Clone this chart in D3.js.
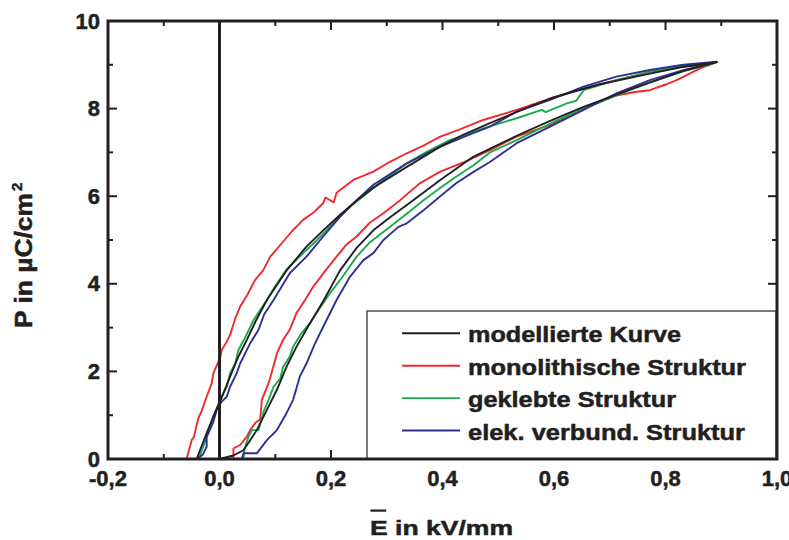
<!DOCTYPE html>
<html>
<head>
<meta charset="utf-8">
<script src="https://cdn.jsdelivr.net/npm/d3@7"></script>
<style>
  html, body { margin: 0; padding: 0; background: #fff; }
  text { font-family: "Liberation Sans", Arial, sans-serif; font-weight: bold; fill: #231f20; stroke: #231f20; stroke-width: 0.5px; }
</style>
</head>
<body>
<svg id="chart" width="789" height="540"></svg>
<script>
// ---- data (E in kV/mm, P in µC/cm²) ----
const xTicks = [-0.2, 0.0, 0.2, 0.4, 0.6, 0.8, 1.0];
const xTickLabels = ["-0,2", "0,0", "0,2", "0,4", "0,6", "0,8", "1,0"];
const yTicks = [0, 2, 4, 6, 8, 10];
const yTickLabels = ["0", "2", "4", "6", "8", "10"];

const seriesNames = ["modellierte Kurve", "monolithische Struktur", "geklebte Struktur", "elek. verbund. Struktur"];
const seriesColors = ["#231f20", "#ee2a2f", "#1aab4b", "#2e3192"];

const modelUpper = [[-0.041,0],[-0.023,0.59],[-0.011,0.97],[0.001,1.31],[0.019,1.88],[0.034,2.34],[0.049,2.72],[0.065,3.15],[0.085,3.63],[0.12,4.3],[0.156,4.85],[0.186,5.22],[0.216,5.57],[0.246,5.9],[0.275,6.19],[0.336,6.67],[0.396,7.13],[0.44,7.42],[0.485,7.67],[0.54,7.96],[0.593,8.23],[0.68,8.55],[0.772,8.8],[0.83,8.95],[0.892,9.06]];
const modelLower = [[0,0],[0.025,0.08],[0.043,0.2],[0.055,0.43],[0.067,0.66],[0.085,1.12],[0.103,1.58],[0.12,2.1],[0.138,2.56],[0.16,3.05],[0.186,3.6],[0.216,4.3],[0.246,4.82],[0.276,5.22],[0.306,5.52],[0.336,5.8],[0.396,6.37],[0.455,6.9],[0.533,7.38],[0.593,7.72],[0.653,8.04],[0.742,8.46],[0.832,8.86],[0.892,9.06]];

const monoUpper = [[-0.059,0],[-0.05,0.43],[-0.046,0.5],[-0.038,0.93],[-0.032,1.1],[-0.023,1.42],[-0.014,1.73],[-0.011,1.96],[0.001,2.3],[0.004,2.49],[0.013,2.68],[0.019,2.83],[0.028,3.2],[0.037,3.48],[0.05,3.75],[0.064,4.09],[0.078,4.3],[0.091,4.62],[0.114,4.96],[0.13,5.2],[0.15,5.46],[0.168,5.62],[0.186,5.84],[0.19,5.97],[0.205,5.86],[0.21,6.08],[0.24,6.37],[0.276,6.56],[0.305,6.78],[0.336,6.98],[0.365,7.15],[0.396,7.36],[0.43,7.52],[0.473,7.74],[0.533,7.97],[0.593,8.23],[0.653,8.46],[0.712,8.65],[0.772,8.84],[0.832,8.96],[0.892,9.06]];
const monoLower = [[0.025,0],[0.025,0.24],[0.037,0.32],[0.049,0.51],[0.055,0.66],[0.064,0.82],[0.073,0.91],[0.076,1.35],[0.088,1.73],[0.092,1.9],[0.103,2.41],[0.114,2.72],[0.126,2.95],[0.138,3.33],[0.152,3.6],[0.168,3.93],[0.19,4.3],[0.21,4.62],[0.228,4.9],[0.246,5.08],[0.27,5.4],[0.294,5.61],[0.324,5.91],[0.36,6.3],[0.396,6.56],[0.443,6.8],[0.485,7.05],[0.533,7.36],[0.593,7.63],[0.653,8.0],[0.712,8.3],[0.745,8.38],[0.772,8.42],[0.8,8.55],[0.82,8.65],[0.862,8.92],[0.892,9.06]];

const glueUpper = [[-0.038,0],[-0.029,0.28],[-0.02,0.62],[-0.011,0.97],[0.001,1.35],[0.013,1.65],[0.019,1.96],[0.028,2.18],[0.034,2.49],[0.047,2.8],[0.061,3.17],[0.085,3.63],[0.1,3.95],[0.12,4.32],[0.15,4.7],[0.175,5.0],[0.198,5.3],[0.234,5.76],[0.265,6.07],[0.294,6.37],[0.336,6.75],[0.37,7.0],[0.413,7.28],[0.473,7.55],[0.533,7.78],[0.578,7.97],[0.585,7.92],[0.623,8.12],[0.64,8.18],[0.653,8.42],[0.712,8.65],[0.772,8.84],[0.832,8.96],[0.885,9.03]];
const glueLower = [[0.043,0],[0.045,0.24],[0.052,0.51],[0.058,0.66],[0.07,0.66],[0.079,1.08],[0.088,1.35],[0.097,1.65],[0.109,1.84],[0.114,2.1],[0.126,2.34],[0.132,2.56],[0.147,2.87],[0.162,3.1],[0.18,3.45],[0.198,3.78],[0.22,4.15],[0.246,4.62],[0.27,4.95],[0.306,5.3],[0.336,5.6],[0.366,5.91],[0.395,6.18],[0.425,6.45],[0.455,6.7],[0.485,7.0],[0.533,7.28],[0.6,7.7],[0.653,8.0],[0.712,8.3],[0.772,8.6],[0.832,8.85],[0.885,9.03]];

const elekUpper = [[-0.041,0],[-0.03,0.1],[-0.023,0.28],[-0.023,0.5],[-0.011,0.85],[-0.005,1.12],[0.004,1.31],[0.013,1.42],[0.019,1.65],[0.031,1.96],[0.037,2.18],[0.046,2.41],[0.055,2.64],[0.07,2.95],[0.08,3.3],[0.097,3.63],[0.126,4.24],[0.156,4.62],[0.186,5.08],[0.216,5.53],[0.245,5.9],[0.276,6.26],[0.336,6.75],[0.396,7.13],[0.455,7.44],[0.485,7.59],[0.533,7.93],[0.593,8.2],[0.653,8.5],[0.712,8.73],[0.772,8.88],[0.832,9.0],[0.892,9.07]];
const elekLower = [[0,0],[0.04,0],[0.043,0.13],[0.067,0.13],[0.085,0.43],[0.103,0.66],[0.12,1.04],[0.132,1.35],[0.144,1.88],[0.156,2.18],[0.17,2.6],[0.186,3.02],[0.21,3.63],[0.234,4.16],[0.258,4.54],[0.276,4.7],[0.294,5.0],[0.321,5.3],[0.336,5.38],[0.366,5.68],[0.396,6.0],[0.425,6.3],[0.455,6.55],[0.485,6.78],[0.533,7.21],[0.593,7.59],[0.653,7.97],[0.712,8.35],[0.772,8.65],[0.832,8.88],[0.892,9.07]];

const loops = [
  [modelUpper, modelLower],
  [monoUpper, monoLower],
  [glueUpper, glueLower],
  [elekUpper, elekLower]
];

// ---- layout ----
const svg = d3.select("#chart");
const L = 108, R = 777, T = 21, B = 459;
const x = d3.scaleLinear().domain([-0.2, 1.0]).range([L, R]);
const y = d3.scaleLinear().domain([0, 10]).range([B, T]);
const ink = "#231f20";

const line = d3.line().x(d => x(d[0])).y(d => y(d[1]));

// curves: upper branch up to the tip, then lower branch back down
const curves = svg.append("g").attr("fill", "none").attr("stroke-width", 1.9).attr("stroke-linejoin", "round");
[1, 2, 3, 0].forEach(i => {
  const pts = loops[i][0].concat(loops[i][1].slice().reverse());
  curves.append("path").attr("d", line(pts)).attr("stroke", seriesColors[i]);
});

// zero line
svg.append("line").attr("x1", x(0)).attr("x2", x(0)).attr("y1", T).attr("y2", B)
  .attr("stroke", ink).attr("stroke-width", 3);

// ticks (inward, all four sides)
const minorX = d3.range(-0.1, 1.0, 0.2);
const minorY = d3.range(1, 10, 2);
const tg = svg.append("g").attr("stroke", ink).attr("stroke-width", 2);
xTicks.forEach(v => {
  tg.append("line").attr("x1", x(v)).attr("x2", x(v)).attr("y1", B).attr("y2", B - 9);
  tg.append("line").attr("x1", x(v)).attr("x2", x(v)).attr("y1", T).attr("y2", T + 9);
});
minorX.forEach(v => {
  tg.append("line").attr("x1", x(v)).attr("x2", x(v)).attr("y1", B).attr("y2", B - 5);
  tg.append("line").attr("x1", x(v)).attr("x2", x(v)).attr("y1", T).attr("y2", T + 5);
});
yTicks.forEach(v => {
  tg.append("line").attr("x1", L).attr("x2", L + 9).attr("y1", y(v)).attr("y2", y(v));
  tg.append("line").attr("x1", R).attr("x2", R - 9).attr("y1", y(v)).attr("y2", y(v));
});
minorY.forEach(v => {
  tg.append("line").attr("x1", L).attr("x2", L + 5).attr("y1", y(v)).attr("y2", y(v));
  tg.append("line").attr("x1", R).attr("x2", R - 5).attr("y1", y(v)).attr("y2", y(v));
});

// legend box
const lg = svg.append("g");
lg.append("rect").attr("x", 367).attr("y", 311).attr("width", 776 - 367).attr("height", B - 311)
  .attr("fill", "#fff").attr("stroke", "#444").attr("stroke-width", 1.4);
const legendLens = [213, 278, 208, 277];
seriesNames.forEach((name, i) => {
  const yy = 333.3 + i * 32.4;
  lg.append("line").attr("x1", 402).attr("x2", 460).attr("y1", yy).attr("y2", yy)
    .attr("stroke", seriesColors[i]).attr("stroke-width", 1.9);
  lg.append("text").attr("x", 468).attr("y", yy + 9).attr("font-size", 22)
    .attr("textLength", legendLens[i]).attr("lengthAdjust", "spacingAndGlyphs").text(name);
});

// frame
svg.append("rect").attr("x", L).attr("y", T).attr("width", R - L).attr("height", B - T)
  .attr("fill", "none").attr("stroke", ink).attr("stroke-width", 3);

// tick labels
xTicks.forEach((v, i) => {
  svg.append("text").attr("x", x(v)).attr("y", 486).attr("text-anchor", "middle")
    .attr("font-size", 22).text(xTickLabels[i]);
});
yTicks.forEach((v, i) => {
  svg.append("text").attr("x", 100).attr("y", y(v) + 7.5).attr("text-anchor", "end")
    .attr("font-size", 22).text(yTickLabels[i]);
});

// x axis title with overlined E
const xt = svg.append("text").attr("x", 370).attr("y", 535).attr("font-size", 21)
  .attr("textLength", 143).attr("lengthAdjust", "spacingAndGlyphs").text("E in kV/mm");
const ext = xt.node().getExtentOfChar(0);
svg.append("rect").attr("x", ext.x + 0.5).attr("y", 509.5).attr("width", ext.width - 2).attr("height", 2.2)
  .attr("fill", ink);

// y axis title
const yt = svg.append("g").attr("transform", "translate(32,328) rotate(-90)");
yt.append("text").attr("x", 0).attr("y", 0).attr("font-size", 23)
  .attr("textLength", 135).attr("lengthAdjust", "spacingAndGlyphs").text("P in \u00B5C/cm");
yt.append("text").attr("x", 137).attr("y", -10).attr("font-size", 15).text("2");
</script>
</body>
</html>
